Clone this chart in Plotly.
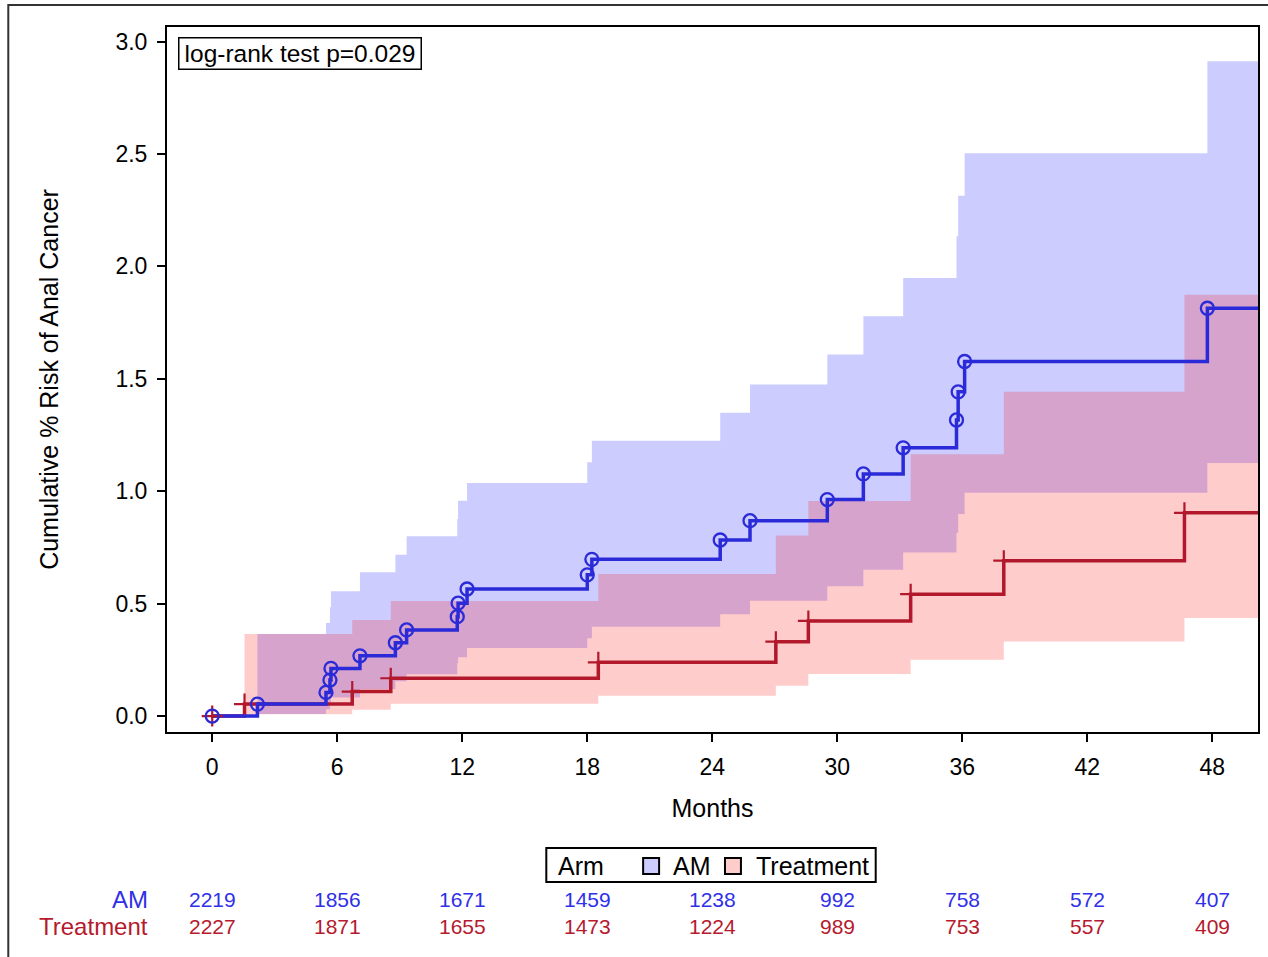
import plotly.graph_objects as go

# ---------------- data ----------------
am_times = [2.17, 5.46, 5.65, 5.70, 7.09, 8.79, 9.33, 11.76, 11.80, 12.23, 18.00, 18.22,
            24.38, 25.81, 29.52, 31.25, 33.16, 35.72, 35.80, 36.11, 47.76]
am_risk = [0.053, 0.105, 0.160, 0.212, 0.268, 0.326, 0.383, 0.442, 0.502, 0.565, 0.628, 0.697,
           0.783, 0.869, 0.963, 1.077, 1.193, 1.317, 1.442, 1.577, 1.814]
am_upper = [0.365, 0.414, 0.484, 0.555, 0.640, 0.717, 0.800, 0.877, 0.958, 1.037, 1.129, 1.225,
            1.349, 1.475, 1.608, 1.778, 1.948, 2.134, 2.314, 2.503, 2.913]
am_lower = [0.009, 0.030, 0.055, 0.083, 0.120, 0.155, 0.186, 0.235, 0.261, 0.303, 0.346, 0.397,
            0.453, 0.513, 0.577, 0.651, 0.728, 0.815, 0.899, 0.993, 1.126]

tr_times = [1.55, 6.72, 8.57, 18.53, 27.05, 28.61, 33.52, 37.99, 46.66]
tr_risk = [0.053, 0.109, 0.168, 0.239, 0.331, 0.423, 0.542, 0.691, 0.904]
tr_upper = [0.365, 0.427, 0.512, 0.632, 0.803, 0.956, 1.165, 1.443, 1.874]
tr_lower = [0.008, 0.028, 0.055, 0.090, 0.135, 0.187, 0.250, 0.332, 0.436]

risk_months = [0, 6, 12, 18, 24, 30, 36, 42, 48]
am_at_risk = [2219, 1856, 1671, 1459, 1238, 992, 758, 572, 407]
tr_at_risk = [2227, 1871, 1655, 1473, 1224, 989, 753, 557, 409]

x_ticks = [0, 6, 12, 18, 24, 30, 36, 42, 48]
y_ticks = [0.0, 0.5, 1.0, 1.5, 2.0, 2.5, 3.0]
pvalue_text = "log-rank test p=0.029"
legend_title = "Arm"
arm_names = ["AM", "Treatment"]

# ---------------- styling ----------------
X_MIN, X_MAX = -2.17, 50.19
Y_MIN, Y_MAX = -0.071, 3.065
BLUE = "#2A2AD8"
RED = "#B2182B"
BLUE_TXT = "#3030E8"
RED_TXT = "#B51A2E"
BLUE_FILL = "rgba(0,0,255,0.2)"
RED_FILL = "rgba(255,0,0,0.2)"
BLUE_SWATCH = "#CCCCFF"
RED_SWATCH = "#FFCCCC"
FONT = "Arial, Liberation Sans, sans-serif"

W, H = 1268, 957
L, R, T, B = 167, 8, 27, 225
PW, PH = W - L - R, H - T - B


def px_x(p):
    return (p - L) / PW


def px_y(p):
    return (H - B - p) / PH


def step_series(times, vals, t0=None, v0=None):
    xs = list(times) + [X_MAX]
    ys = list(vals) + [vals[-1]]
    if t0 is not None:
        xs = [t0] + xs
        ys = [v0] + ys
    return xs, ys


fig = go.Figure()

# confidence bands
for times, lo, hi, fill in [(am_times, am_lower, am_upper, BLUE_FILL),
                            (tr_times, tr_lower, tr_upper, RED_FILL)]:
    xl, yl = step_series(times, lo)
    xh, yh = step_series(times, hi)
    fig.add_trace(go.Scatter(x=xl, y=yl, mode="lines", line=dict(width=0, shape="hv"),
                             showlegend=False, hoverinfo="skip"))
    fig.add_trace(go.Scatter(x=xh, y=yh, mode="lines", line=dict(width=0, shape="hv"),
                             fill="tonexty", fillcolor=fill, showlegend=False, hoverinfo="skip"))

# step lines
xa, ya = step_series(am_times, am_risk, 0, 0)
xt, yt = step_series(tr_times, tr_risk, 0, 0)
fig.add_trace(go.Scatter(x=xt, y=yt, mode="lines", line=dict(color=RED, width=3.5, shape="hv"),
                         showlegend=False, name=arm_names[1]))
fig.add_trace(go.Scatter(x=xa, y=ya, mode="lines", line=dict(color=BLUE, width=3.5, shape="hv"),
                         showlegend=False, name=arm_names[0]))

# event markers
fig.add_trace(go.Scatter(x=[0] + tr_times, y=[0] + tr_risk, mode="markers",
                         marker=dict(symbol="cross-thin-open", size=15, color=RED,
                                     line=dict(color=RED, width=2.2)),
                         showlegend=False))
fig.add_trace(go.Scatter(x=[0] + am_times, y=[0] + am_risk, mode="markers",
                         marker=dict(symbol="circle-open", size=13, color=BLUE,
                                     line=dict(color=BLUE, width=2.3)),
                         showlegend=False))

annotations = []
# p-value box
annotations.append(dict(text=pvalue_text, xref="paper", yref="paper",
                        x=px_x(178), y=px_y(37), xanchor="left", yanchor="top",
                        width=239, height=28, align="center", valign="middle",
                        showarrow=False, font=dict(family=FONT, size=24.5, color="black"),
                        bordercolor="black", borderwidth=1.5, borderpad=1, bgcolor="white"))
# risk table
annotations.append(dict(text=arm_names[0], xref="paper", yref="paper", x=px_x(150), y=px_y(899),
                        xanchor="right", yanchor="middle", showarrow=False,
                        font=dict(family=FONT, size=24, color=BLUE_TXT)))
annotations.append(dict(text=arm_names[1], xref="paper", yref="paper", x=px_x(150), y=px_y(926),
                        xanchor="right", yanchor="middle", showarrow=False,
                        font=dict(family=FONT, size=24, color=RED_TXT)))
for m, a, t in zip(risk_months, am_at_risk, tr_at_risk):
    annotations.append(dict(text=str(a), xref="x", yref="paper", x=m, y=px_y(899),
                            xanchor="center", yanchor="middle", showarrow=False,
                            font=dict(family=FONT, size=21, color=BLUE_TXT)))
    annotations.append(dict(text=str(t), xref="x", yref="paper", x=m, y=px_y(926),
                            xanchor="center", yanchor="middle", showarrow=False,
                            font=dict(family=FONT, size=21, color=RED_TXT)))

# legend (drawn manually)
annotations.append(dict(text=legend_title, xref="paper", yref="paper", x=px_x(557), y=px_y(866),
                        xanchor="left", yanchor="middle", showarrow=False,
                        font=dict(family=FONT, size=25, color="black")))
annotations.append(dict(text=arm_names[0], xref="paper", yref="paper", x=px_x(672), y=px_y(866),
                        xanchor="left", yanchor="middle", showarrow=False,
                        font=dict(family=FONT, size=25, color="black")))
annotations.append(dict(text=arm_names[1], xref="paper", yref="paper", x=px_x(755), y=px_y(866),
                        xanchor="left", yanchor="middle", showarrow=False,
                        font=dict(family=FONT, size=25, color="black")))

shapes = [
    # outer frame
    dict(type="rect", xref="paper", yref="paper",
         x0=px_x(8), x1=px_x(1280), y0=px_y(5), y1=px_y(980),
         line=dict(color="#333333", width=2), fillcolor="rgba(0,0,0,0)", layer="below"),
    # legend frame
    dict(type="rect", xref="paper", yref="paper",
         x0=px_x(547), x1=px_x(877), y0=px_y(848), y1=px_y(882),
         line=dict(color="black", width=2), fillcolor="white"),
    # legend swatches
    dict(type="rect", xref="paper", yref="paper",
         x0=px_x(644), x1=px_x(660), y0=px_y(858), y1=px_y(874),
         line=dict(color="black", width=2), fillcolor=BLUE_SWATCH),
    dict(type="rect", xref="paper", yref="paper",
         x0=px_x(726), x1=px_x(742), y0=px_y(858), y1=px_y(874),
         line=dict(color="black", width=2), fillcolor=RED_SWATCH),
]

fig.update_layout(
    width=W, height=H,
    margin=dict(l=L, r=R, t=T, b=B),
    paper_bgcolor="white", plot_bgcolor="white",
    font=dict(family=FONT, size=23, color="black"),
    showlegend=False,
    annotations=annotations,
    shapes=shapes,
    xaxis=dict(range=[X_MIN, X_MAX], tickmode="array", tickvals=x_ticks,
               ticktext=[str(v) for v in x_ticks], ticks="outside", ticklen=8, tickwidth=2,
               tickcolor="black", showline=True, linecolor="black", linewidth=2, mirror=True,
               showgrid=False, zeroline=False, ticklabelstandoff=5,
               tickfont=dict(family=FONT, size=23),
               title=dict(text="Months", font=dict(family=FONT, size=25), standoff=21)),
    yaxis=dict(range=[Y_MIN, Y_MAX], tickmode="array", tickvals=y_ticks,
               ticktext=[f"{v:.1f}" for v in y_ticks], ticks="outside", ticklen=8, tickwidth=2,
               tickcolor="black", showline=True, linecolor="black", linewidth=2, mirror=True,
               showgrid=False, zeroline=False, ticklabelstandoff=5,
               tickfont=dict(family=FONT, size=23),
               title=dict(text="Cumulative % Risk of Anal Cancer",
                          font=dict(family=FONT, size=25), standoff=50)),
)

fig.write_html("out.html", config={"displayModeBar": False},
               post_script="document.body.style.margin='0px';")
